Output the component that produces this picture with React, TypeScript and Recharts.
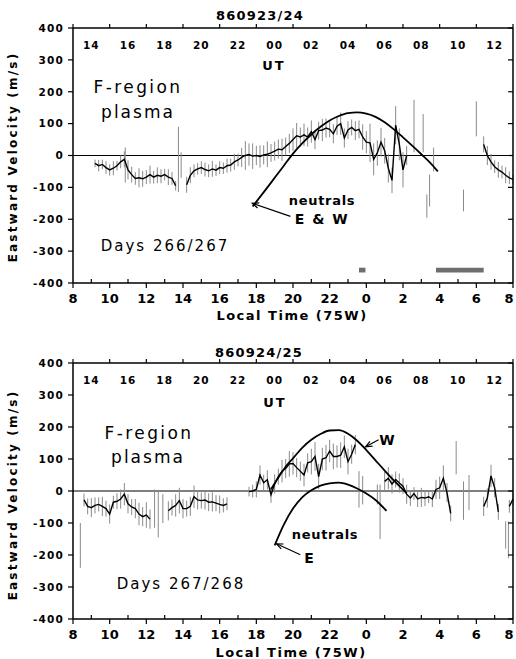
import React from "react";
import { ComposedChart, Line, XAxis, YAxis, ErrorBar, ReferenceLine, ReferenceArea } from "recharts";

const FONT = "'DejaVu Sans', Verdana, sans-serif";
const STEP = 0.2; // hours between plasma samples

const LT_TICKS = [8, 9, 10, 11, 12, 13, 14, 15, 16, 17, 18, 19, 20, 21, 22, 23, 24, 25, 26, 27, 28, 29, 30, 31, 32];
const LT_LABELS = ["8", "10", "12", "14", "16", "18", "20", "22", "0", "2", "4", "6", "8"];
const UT_LABELS = ["14", "16", "18", "20", "22", "00", "02", "04", "06", "08", "10", "12"];
const VEL_TICKS = [-400, -300, -200, -100, 0, 100, 200, 300, 400];

// ---- panel 1: 860923/24, days 266/267
const P1_A_START = 9.2;
const P1_A = [-25, -32, -28, -38, -45, -40, -32, -20, -12, -45, -60, -72, -70, -73, -68, -60, -68, -62, -65, -60, -68, -72, -95];
const P1_A_ERR = [12, 18, 15, 20, 18, 22, 15, 20, 25, 30, 25, 20, 30, 25, 22, 28, 20, 25, 22, 18, 25, 20, 15];
const P1_B_START = 14.2;
const P1_B = [
  -92, -62, -48, -42, -38, -44, -48, -42, -46, -38, -40, -32, -30, -20, -14, -6, 0, 3, -2, 0,
  -3, 2, 4, 8, 14, 20, 18, 28, 38, 50, 62, 58, 65, 58, 75, 50, 78, 80, 86, 82,
  68, 92, 100, 55, 80, 88, 78, 82, 58, 42, 40, -12, 8, 42, 15, -40, -78, 95, 35, -45, 0,
];
const P1_B_ERR = [
  25, 25, 20, 18, 20, 22, 20, 25, 18, 20, 18, 22, 20, 25, 20, 30, 45, 35, 40, 30,
  35, 30, 40, 28, 30, 30, 35, 28, 30, 35, 40, 30, 35, 30, 35, 30, 28, 35, 30, 25,
  30, 28, 35, 30, 28, 25, 30, 28, 40, 35, 60, 50, 40, 45, 40, 45, 40, 60, 50, 55, 30,
];
const P1_C_START = 30.4;
const P1_C = [35, 0, -20, -35, -45, -52, -62, -70, -75];
const P1_C_ERR = [25, 30, 25, 20, 25, 20, 25, 20, 15];
// isolated bars: [LT, low, high]
const P1_LONE = [
  [10.85, -85, 25], [13.75, -115, 90], [13.9, -70, 10], [26.6, 10, 175], [27.1, 10, 130],
  [27.3, -195, -122], [27.45, -160, -60], [27.67, -50, 25], [29.3, -175, -107], [30.0, 60, 170],
];
const P1_NEU_T = [17.8, 18.5, 19, 19.5, 20, 20.5, 21, 21.5, 22, 22.5, 23, 23.5, 24, 24.5, 25, 25.5, 26, 26.5, 27, 27.5, 27.9];
const P1_NEU_V = [-160, -108, -70, -32, 6, 38, 66, 90, 110, 124, 133, 135, 131, 121, 104, 82, 57, 31, 4, -24, -50];
const P1_MARKS = [[23.6, 23.95], [27.8, 30.4]];

// ---- panel 2: 860924/25, days 267/268
const P2_A_START = 8.6;
const P2_A = [-28, -48, -52, -45, -42, -48, -55, -72, -35, -32, -25, -10, -40, -50, -55, -72, -80, -75, -88];
const P2_A_ERR = [20, 25, 30, 25, 22, 30, 25, 30, 20, 25, 30, 35, 30, 25, 30, 35, 30, 40, 30];
const P2_B_START = 13.2;
const P2_B = [-62, -52, -45, -30, -55, -55, -48, -18, -28, -30, -28, -35, -34, -38, -42, -45, -40];
const P2_B_ERR = [30, 25, 35, 40, 30, 25, 30, 35, 30, 25, 30, 28, 30, 25, 28, 22, 20];
const P2_C_START = 17.6;
const P2_C = [-2, 0, 5, 50, 26, 35, -12, 22, 45, 62, 70, 85, 86, 73, 62, 50, 88, 92, 108, 45, 100, 104, 125, 108, 108, 112, 138, 92, 115, 145];
const P2_C_ERR = [15, 20, 25, 30, 25, 30, 25, 30, 25, 35, 30, 40, 35, 30, 30, 35, 30, 40, 45, 40, 35, 40, 35, 40, 35, 40, 35, 40, 30, 30];
const P2_D_START = 25.0;
const P2_D = [30, 40, 22, 36, 25, 15, -10, -22, -8, -25, -20, -22, -18, -25, 5, 10, 40, -5, -70];
const P2_D_ERR = [30, 35, 30, 25, 30, 25, 30, 25, 20, 25, 30, 25, 20, 25, 30, 35, 40, 30, 25];
const P2_E_START = 30.4;
const P2_E = [-48, -22, 47, 10, -65];
const P2_E_ERR = [30, 30, 35, 30, 25];
const P2_F_START = 31.8;
const P2_F = [-48, -25];
const P2_F_ERR = [20, 20];
const P2_LONE = [
  [8.4, -240, -100], [12.45, -115, 5], [12.65, -145, 0], [12.9, -100, -10], [23.6, -52, 62],
  [23.8, -42, 47], [24.6, -42, 20], [24.75, -150, 20], [28.9, 52, 156], [29.3, -90, 30],
  [29.6, -60, 50], [31.6, -180, -95], [31.75, -210, -95],
];
const P2_W_T = [18.8, 19.2, 19.6, 20, 20.5, 21, 21.5, 22, 22.5, 23, 23.5, 24, 24.5, 25, 25.5, 26, 26.2];
const P2_W_V = [5, 42, 76, 102, 135, 160, 178, 189, 190, 179, 157, 128, 96, 64, 33, 4, -7];
const P2_E_T = [19.0, 19.5, 20.0, 20.5, 21.0, 21.5, 22.0, 22.5, 23.0, 23.5, 24.0, 24.5, 25.1];
const P2_E_V = [-170, -105, -55, -20, 2, 17, 24, 26, 20, 8, -8, -28, -62];

// annotation arrows [from LT, from v, tip LT, tip v]
const P1_ARROWS = [[19.86, -191, 17.78, -150]];
const P2_ARROWS = [[24.67, 160, 23.96, 138], [20.4, -199, 19.1, -165]];

const seg = (start: number, vals: number[], errs: number[]) =>
  vals.map((v, i) => ({ t: Math.round((start + i * STEP) * 100) / 100, v, e: errs[i] }));
const lone = (rows: number[][]) => rows.map(([t, lo, hi]) => ({ t, v: (lo + hi) / 2, e: (hi - lo) / 2 }));
const curve = (ts: number[], vs: number[]) => ts.map((t, i) => ({ t, v: vs[i] }));

const AXIS = { stroke: "#000", strokeWidth: 1.5 };

function LeftTick(props: any) {
  const { x, y, payload } = props;
  return (
    <g>
      <line x1={x - 5} x2={x} y1={y} y2={y} stroke="#000" strokeWidth={1.2} />
      <text x={x - 9} y={y} dy="0.36em" textAnchor="end" fontSize={10.5} fontWeight="bold" letterSpacing={1.2} fontFamily={FONT} fill="#000">
        {payload.value}
      </text>
    </g>
  );
}

function RightTick(props: any) {
  const { x, y } = props;
  return <line x1={x - 5} x2={x} y1={y} y2={y} stroke="#000" strokeWidth={1.2} />;
}

function BottomTick(props: any) {
  const { x, y, payload } = props;
  const h = payload.value;
  if (h % 2 !== 0) return <line x1={x} x2={x} y1={y} y2={y - 4} stroke="#000" strokeWidth={1.2} />;
  // keep the last label inside the page edge
  const lx = h === 32 ? x - 4 : x;
  return (
    <g>
      <line x1={x} x2={x} y1={y} y2={y + 5} stroke="#000" strokeWidth={1.2} />
      <text x={lx} y={y + 15} dy="0.36em" textAnchor="middle" fontSize={13} fontWeight="bold" fontFamily={FONT} fill="#000">
        {LT_LABELS[(h - 8) / 2]}
      </text>
    </g>
  );
}

function TopTick(props: any) {
  const { x, y, payload } = props;
  const h = payload.value;
  if (h % 2 === 0) return <line x1={x} x2={x} y1={y} y2={y - 4} stroke="#000" strokeWidth={1.2} />;
  return (
    <text x={x} y={y + 17} dy="0.36em" textAnchor="middle" fontSize={10.5} fontWeight="bold" letterSpacing={1} fontFamily={FONT} fill="#000">
      {UT_LABELS[(h - 9) / 2]}
    </text>
  );
}

function ArrowShape(props: any) {
  const { x1, y1, x2, y2 } = props;
  const a = Math.atan2(y2 - y1, x2 - x1);
  const L = 7;
  const p1 = [x2 - L * Math.cos(a - 0.4), y2 - L * Math.sin(a - 0.4)];
  const p2 = [x2 - L * Math.cos(a + 0.4), y2 - L * Math.sin(a + 0.4)];
  return (
    <g>
      <line x1={x1} y1={y1} x2={x2} y2={y2} stroke="#000" strokeWidth={1.2} />
      <polyline points={`${p1[0]},${p1[1]} ${x2},${y2} ${p2[0]},${p2[1]}`} fill="none" stroke="#000" strokeWidth={1.2} />
    </g>
  );
}

type Pt = { t: number; v: number; e?: number };

function Panel(props: {
  height: number;
  top: number;
  bottom: number;
  segs: Pt[][];
  bars: Pt[];
  neutrals: Pt[][];
  marks: number[][];
  arrows: number[][];
}) {
  const { height, top, bottom, segs, bars, neutrals, marks, arrows } = props;
  return (
    <ComposedChart width={516} height={height} margin={{ top, right: 2, bottom, left: 10 }}>
      <XAxis xAxisId="b" type="number" dataKey="t" domain={[8, 32]} ticks={LT_TICKS} interval={0} allowDataOverflow
        height={20} tickSize={0} tickMargin={0} tickLine={false} tick={BottomTick} axisLine={AXIS} />
      <XAxis xAxisId="t" orientation="top" type="number" dataKey="t" domain={[8, 32]} ticks={LT_TICKS} interval={0} allowDataOverflow
        height={1} tickSize={0} tickMargin={0} tickLine={false} tick={TopTick} axisLine={AXIS} />
      <YAxis yAxisId="l" type="number" domain={[-400, 400]} ticks={VEL_TICKS} interval={0} allowDataOverflow
        width={63} tickSize={0} tickMargin={0} tickLine={false} tick={LeftTick} axisLine={AXIS} />
      <YAxis yAxisId="r" orientation="right" type="number" domain={[-400, 400]} ticks={VEL_TICKS} interval={0} allowDataOverflow
        width={1} tickSize={0} tickMargin={0} tickLine={false} tick={RightTick} axisLine={AXIS} />
      <ReferenceLine xAxisId="b" yAxisId="l" y={0} stroke="#000" strokeWidth={1.2} />
      {marks.map(([a, b], i) => (
        <ReferenceArea key={"m" + i} xAxisId="b" yAxisId="l" x1={a} x2={b} y1={-367} y2={-352} fill="#555" fillOpacity={0.85} stroke="none" />
      ))}
      {[...segs, bars].map((s, i) => (
        <Line key={"e" + i} xAxisId="b" yAxisId="l" data={s} dataKey="v" stroke="none" dot={false} isAnimationActive={false} legendType="none">
          <ErrorBar dataKey="e" direction="y" width={0} stroke="#8a8a8a" strokeWidth={1} isAnimationActive={false} />
        </Line>
      ))}
      {segs.map((s, i) => (
        <Line key={"s" + i} xAxisId="b" yAxisId="l" data={s} dataKey="v" type="linear" stroke="#000" strokeWidth={1.4} dot={false} isAnimationActive={false} />
      ))}
      {neutrals.map((s, i) => (
        <Line key={"n" + i} xAxisId="b" yAxisId="l" data={s} dataKey="v" type="monotone" stroke="#000" strokeWidth={1.8} dot={false} isAnimationActive={false} />
      ))}
      {arrows.map(([fx, fy, tx, ty], i) => (
        <ReferenceLine key={"a" + i} xAxisId="b" yAxisId="l" segment={[{ x: fx, y: fy }, { x: tx, y: ty }]} shape={ArrowShape} />
      ))}
    </ComposedChart>
  );
}

function Txt({ x, y, size, weight, spacing, children, rotate }: any) {
  return (
    <div
      style={{
        position: "absolute",
        left: x,
        top: y,
        transform: `translate(-50%, -50%)${rotate ? ` rotate(${rotate}deg)` : ""}`,
        fontSize: size,
        fontWeight: weight || "normal",
        letterSpacing: spacing || 0,
        whiteSpace: "nowrap",
        lineHeight: 1,
        color: "#000",
      }}
    >
      {children}
    </div>
  );
}

export default function App() {
  const p1Segs = [seg(P1_A_START, P1_A, P1_A_ERR), seg(P1_B_START, P1_B, P1_B_ERR), seg(P1_C_START, P1_C, P1_C_ERR)];
  const p2Segs = [
    seg(P2_A_START, P2_A, P2_A_ERR), seg(P2_B_START, P2_B, P2_B_ERR), seg(P2_C_START, P2_C, P2_C_ERR),
    seg(P2_D_START, P2_D, P2_D_ERR), seg(P2_E_START, P2_E, P2_E_ERR), seg(P2_F_START, P2_F, P2_F_ERR),
  ];
  return (
    <div style={{ position: "absolute", left: 0, top: 0, width: 516, height: 659, background: "#fff", fontFamily: FONT, overflow: "hidden" }}>
      <div style={{ position: "absolute", left: 0, top: 0 }}>
        <Panel height={330} top={27} bottom={27} segs={p1Segs} bars={lone(P1_LONE)}
          neutrals={[curve(P1_NEU_T, P1_NEU_V)]} marks={P1_MARKS} arrows={P1_ARROWS} />
      </div>
      <div style={{ position: "absolute", left: 0, top: 330 }}>
        <Panel height={329} top={32} bottom={20} segs={p2Segs} bars={lone(P2_LONE)}
          neutrals={[curve(P2_W_T, P2_W_V), curve(P2_E_T, P2_E_V)]} marks={[]} arrows={P2_ARROWS} />
      </div>

      {/* panel 1 text */}
      <Txt x={260} y={15} size={13} weight="bold" spacing={1.2}>860923/24</Txt>
      <Txt x={274} y={65} size={13} weight="bold" spacing={2}>UT</Txt>
      <Txt x={138} y={87} size={17} spacing={2.4}>F-region</Txt>
      <Txt x={138} y={112} size={17} spacing={2}>plasma</Txt>
      <Txt x={322} y={200} size={13} weight="bold" spacing={0.7}>neutrals</Txt>
      <Txt x={322} y={219} size={14} weight="bold" spacing={1.5}>E &amp; W</Txt>
      <Txt x={165} y={246} size={15} spacing={2}>Days 266/267</Txt>
      <Txt x={292} y={315} size={13} weight="bold" spacing={1.5}>Local Time (75W)</Txt>
      <Txt x={13} y={157} size={12} weight="bold" spacing={2.2} rotate={-90}>Eastward Velocity (m/s)</Txt>

      {/* panel 2 text */}
      <Txt x={259} y={352} size={13} weight="bold" spacing={1.2}>860924/25</Txt>
      <Txt x={275} y={402} size={13} weight="bold" spacing={2}>UT</Txt>
      <Txt x={149} y={433} size={17} spacing={2.4}>F-region</Txt>
      <Txt x={148} y={457} size={17} spacing={2}>plasma</Txt>
      <Txt x={387} y={440} size={14} weight="bold">W</Txt>
      <Txt x={325} y={534} size={13} weight="bold" spacing={0.7}>neutrals</Txt>
      <Txt x={309} y={558} size={14} weight="bold">E</Txt>
      <Txt x={181} y={584} size={15} spacing={2}>Days 267/268</Txt>
      <Txt x={291} y={652} size={13} weight="bold" spacing={1.5}>Local Time (75W)</Txt>
      <Txt x={13} y={495} size={12} weight="bold" spacing={2.2} rotate={-90}>Eastward Velocity (m/s)</Txt>
    </div>
  );
}
